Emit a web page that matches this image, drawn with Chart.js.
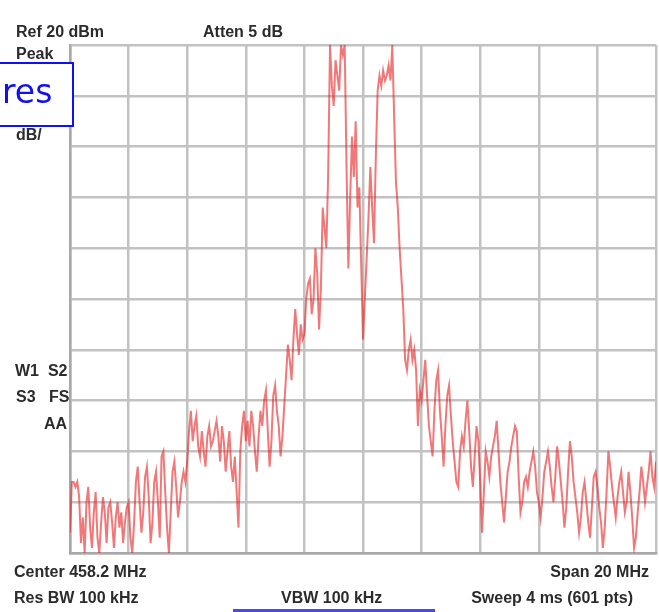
<!DOCTYPE html>
<html>
<head>
    <title>Spectrum trace</title>
    <script src="https://cdn.jsdelivr.net/npm/chart.js"></script>
    <style>
        body { margin: 0; background: #fff; width: 659px; height: 612px; overflow: hidden; position: relative; }
        #wrap { position: absolute; left: 0; top: 0; width: 659px; height: 612px; }
        #wrap canvas { filter: blur(0.6px); }
        .lbl {
            position: absolute;
            font-family: "Liberation Sans", Arial, sans-serif;
            font-weight: bold;
            font-size: 16px;
            color: #2b2b2b;
            white-space: nowrap;
            line-height: 18px;
            filter: blur(0.5px);
        }
        .note {
            position: absolute;
            left: -2px; top: 62px; width: 72px; height: 61px;
            border: 2px solid #1010f0;
            background: #fff;
            overflow: hidden;
        }
        .note span {
            position: absolute; left: 2px; top: 8px;
            font-family: "DejaVu Sans", sans-serif;
            font-size: 33px; color: #1010f0;
        }
        .rule { position: absolute; left: 233px; top: 609px; width: 202px; height: 3px; background: #4a4ae8; }
    </style>
</head>
<body>
    <div id="wrap"><canvas id="trace" width="659" height="612"></canvas></div>

    <div class="lbl" style="left:16px; top:23px;">Ref 20 dBm</div>
    <div class="lbl" style="left:203px; top:23px;">Atten 5 dB</div>
    <div class="lbl" style="left:16px; top:45px;">Peak</div>
    <div class="lbl" style="left:16px; top:126px;">dB/</div>
    <div class="lbl" style="left:15px; top:362px;">W1&nbsp; S2</div>
    <div class="lbl" style="left:16px; top:388px;">S3&nbsp;&nbsp; FS</div>
    <div class="lbl" style="left:44px; top:415px;">AA</div>
    <div class="lbl" style="left:14px; top:563px;">Center 458.2 MHz</div>
    <div class="lbl" style="right:10px; top:563px;">Span 20 MHz</div>
    <div class="lbl" style="left:14px; top:589px;">Res BW 100 kHz</div>
    <div class="lbl" style="left:281px; top:589px;">VBW 100 kHz</div>
    <div class="lbl" style="right:26px; top:589px;">Sweep 4 ms (601 pts)</div>

    <div class="note"><span>res</span></div>
    <div class="rule"></div>

    <script>
        // screen: 10 divisions each way, ref level 20 dBm, 10 dB/div
        const REF_LEVEL = 20;
        const BOTTOM_LEVEL = -80;
        const DB_PER_DIV = 10;
        const SAMPLES_PER_DIV = 32;
        const LAST_INDEX = 320;

        // trace levels in dBm, left to right, one row per division
        const levels = [
            -76, -66, -66, -67, -66, -69, -78, -73, -80, -70, -67, -75, -79, -72, -68, -77,
            -80, -74, -69, -72, -78, -71, -70, -74, -79, -73, -70, -75, -72, -78, -74, -71,
            -70, -77, -80, -74, -66, -63, -70, -76, -72, -65, -63, -69, -78, -74, -66, -64,
            -70, -77, -61, -60, -68, -75, -80, -72, -64, -62, -67, -73, -70, -66, -64, -66,
            -62, -56, -52, -58, -55, -53, -59, -61, -56, -60, -63, -57, -55, -59, -58, -56,
            -54, -57, -62, -55, -58, -64, -60, -56, -63, -66, -61, -68, -75, -60, -55, -52,
            -58, -54, -59, -52, -55, -60, -64, -57, -52, -55, -50, -48, -56, -63, -58, -49,
            -47, -52, -55, -61, -57, -51, -45, -39, -42, -46, -38, -32, -37, -41, -35, -38,
            -37, -30, -27, -26, -33, -30, -20, -25, -36, -28, -12, -16, -20, -5, 20, 12,
            8, 17, 14, 11, 20, 18, 20, -4, -24, -10, 2, -6, 5, -12, -8, -23,
            -38, -30, -22, -14, -4, -12, -19, -2, 11, 14, 12, 15, 13, 14, 16, 13,
            20, 6, -7, -12, -20, -26, -32, -42, -44, -40, -38, -42, -40, -44, -55, -48,
            -50, -46, -42, -49, -55, -58, -61, -52, -46, -44, -52, -57, -63, -55, -49, -47,
            -53, -58, -62, -66, -67, -60, -57, -59, -54, -50, -56, -63, -67, -61, -55, -58,
            -66, -76, -68, -60, -62, -65, -61, -59, -57, -54, -60, -66, -70, -74, -69, -64,
            -62, -59, -57, -55, -56, -65, -72, -70, -66, -65, -67, -64, -62, -60, -63, -68,
            -70, -73, -69, -64, -62, -60, -63, -67, -70, -65, -59, -62, -66, -70, -75, -71,
            -64, -58, -61, -66, -69, -72, -76, -73, -68, -66, -70, -74, -77, -71, -65, -64,
            -67, -71, -74, -79, -75, -68, -60, -63, -67, -70, -73, -69, -66, -64, -68, -72,
            -70, -64, -68, -73, -79, -77, -72, -68, -63, -66, -70, -67, -64, -60, -65, -67,
            -62
        ];

        const points = levels.map((v, i) => ({ x: i, y: v }));

        const gridStyle = {
            color: '#c2c2c2',
            lineWidth: 2.5,
            drawTicks: false
        };

        new Chart(document.getElementById('trace'), {
            type: 'line',
            data: {
                datasets: [{
                    data: points,
                    borderColor: 'rgba(232, 30, 30, 0.6)',
                    borderWidth: 2,
                    pointRadius: 0,
                    tension: 0,
                    fill: false
                }]
            },
            options: {
                responsive: false,
                animation: false,
                devicePixelRatio: 1,
                layout: { padding: { left: 70, top: 45, right: 3, bottom: 59 } },
                plugins: { legend: { display: false }, tooltip: { enabled: false } },
                scales: {
                    x: {
                        type: 'linear',
                        min: 0,
                        max: LAST_INDEX,
                        ticks: { display: false, stepSize: SAMPLES_PER_DIV },
                        grid: gridStyle,
                        border: { color: '#a8a8a8', width: 2.5 }
                    },
                    y: {
                        min: BOTTOM_LEVEL,
                        max: REF_LEVEL,
                        ticks: { display: false, stepSize: DB_PER_DIV },
                        grid: gridStyle,
                        border: { color: '#a8a8a8', width: 2.5 }
                    }
                }
            }
        });
    </script>
</body>
</html>
